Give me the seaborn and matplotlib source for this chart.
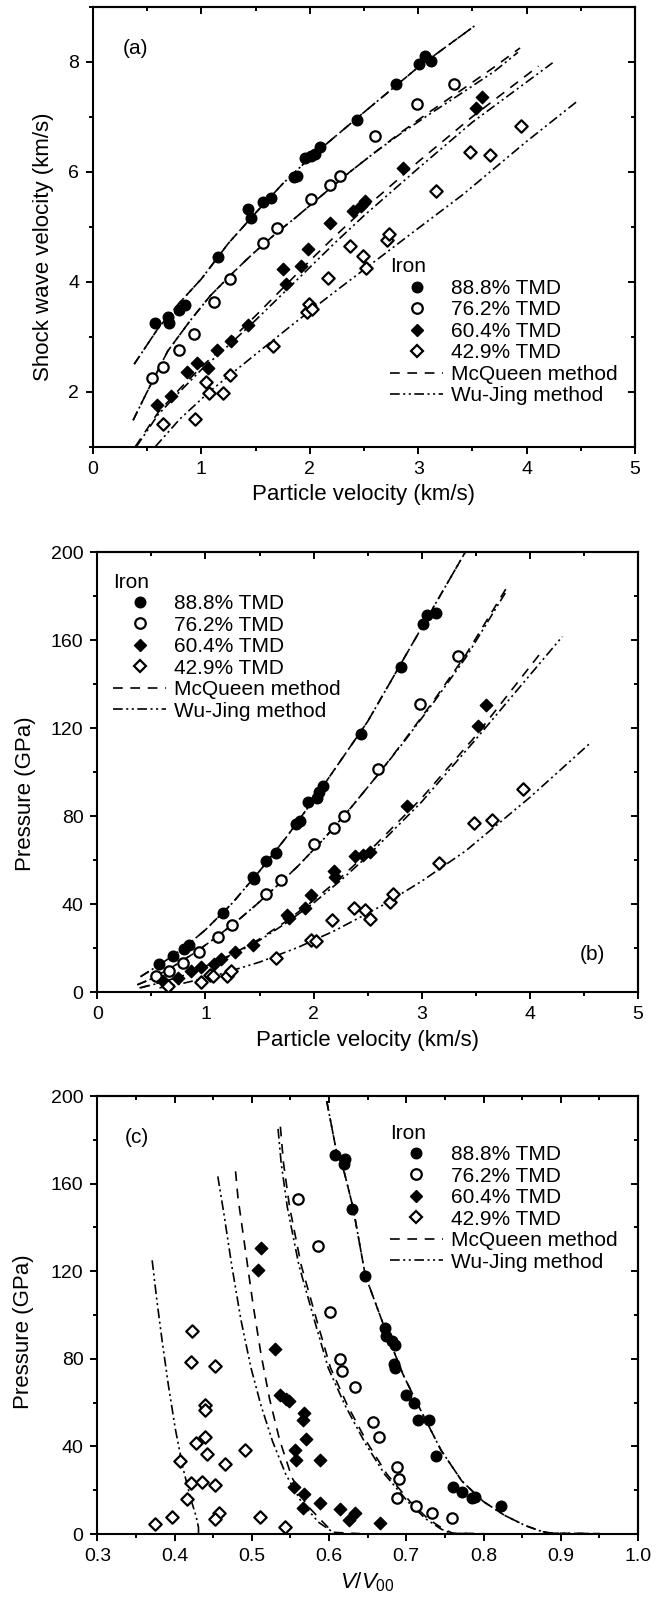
import matplotlib
matplotlib.use("Agg")
import matplotlib.pyplot as plt
import seaborn as sns
from matplotlib.lines import Line2D
from matplotlib.ticker import MultipleLocator

sns.set_theme(style="ticks", rc={"axes.edgecolor": "black", "xtick.color": "black",
                                  "ytick.color": "black", "text.color": "black",
                                  "axes.labelcolor": "black"})
plt.rcParams["font.family"] = ["Liberation Sans", "DejaVu Sans"]
plt.rcParams["mathtext.fontset"] = "custom"
plt.rcParams["mathtext.rm"] = "Liberation Sans"
plt.rcParams["mathtext.it"] = "Liberation Sans:italic"
plt.rcParams["lines.scale_dashes"] = False

# ---------------- legend / labels ----------------
series_labels = ["88.8% TMD", "76.2% TMD", "60.4% TMD", "42.9% TMD"]
method_labels = ["McQueen method", "Wu-Jing method"]
legend_title = "Iron"

# ---------------- panel (a): Us vs up (km/s) ----------------
a_up_888 = [0.57, 0.69, 0.70, 0.79, 0.85, 1.15, 1.43, 1.46, 1.57, 1.64, 1.85, 1.88, 1.96, 2.01, 2.05, 2.09, 2.44, 2.80, 3.01, 3.06, 3.12]
a_us_888 = [3.24, 3.36, 3.25, 3.49, 3.57, 4.44, 5.32, 5.15, 5.44, 5.53, 5.91, 5.93, 6.25, 6.29, 6.32, 6.44, 6.94, 7.60, 7.95, 8.11, 8.01]
a_up_762 = [0.545, 0.645, 0.79, 0.93, 1.12, 1.26, 1.57, 1.70, 2.01, 2.19, 2.28, 2.60, 2.99, 3.33]
a_us_762 = [2.25, 2.45, 2.75, 3.05, 3.63, 4.04, 4.70, 4.98, 5.51, 5.75, 5.93, 6.64, 7.23, 7.60]
a_up_604 = [0.595, 0.72, 0.87, 0.96, 1.06, 1.14, 1.27, 1.43, 1.75, 1.78, 1.92, 1.98, 2.19, 2.40, 2.47, 2.51, 2.86, 3.53, 3.59]
a_us_604 = [1.76, 1.92, 2.35, 2.52, 2.43, 2.75, 2.92, 3.21, 4.23, 3.96, 4.29, 4.59, 5.06, 5.28, 5.37, 5.47, 6.07, 7.15, 7.35]
a_up_429 = [0.65, 0.94, 1.04, 1.07, 1.20, 1.26, 1.66, 1.97, 1.99, 2.02, 2.17, 2.37, 2.49, 2.52, 2.71, 2.73, 3.16, 3.48, 3.66, 3.95]
a_us_429 = [1.42, 1.51, 2.17, 1.98, 1.98, 2.31, 2.83, 3.45, 3.60, 3.50, 4.06, 4.65, 4.46, 4.24, 4.75, 4.87, 5.64, 6.35, 6.30, 6.83]

a_mq_888_x = [0.38, 0.6, 0.8, 1.0, 1.25, 1.5, 1.75, 2.0, 2.5, 3.0, 3.52]
a_mq_888_y = [2.50, 3.15, 3.62, 4.05, 4.70, 5.25, 5.78, 6.25, 7.08, 7.90, 8.65]
a_wj_888_x = [0.38, 0.6, 0.8, 1.0, 1.25, 1.5, 1.75, 2.0, 2.5, 3.0, 3.52]
a_wj_888_y = [2.50, 3.15, 3.62, 4.05, 4.70, 5.25, 5.78, 6.25, 7.08, 7.90, 8.65]
a_mq_762_x = [0.37, 0.5, 0.69, 0.9, 1.08, 1.3, 1.47, 1.7, 1.86, 2.1, 2.36, 2.6, 2.83, 3.1, 3.41, 3.7, 3.94]
a_mq_762_y = [1.48, 2.00, 2.74, 3.30, 3.74, 4.18, 4.50, 4.90, 5.15, 5.55, 5.98, 6.35, 6.70, 7.08, 7.50, 7.90, 8.25]
a_wj_762_x = [0.37, 0.5, 0.69, 0.9, 1.08, 1.3, 1.47, 1.7, 1.86, 2.1, 2.36, 2.6, 2.83, 3.1, 3.41, 3.7, 3.92]
a_wj_762_y = [1.48, 2.00, 2.74, 3.30, 3.74, 4.18, 4.50, 4.90, 5.15, 5.55, 5.98, 6.35, 6.68, 7.04, 7.44, 7.82, 8.17]
a_mq_604_x = [0.39, 0.6, 0.8, 1.0, 1.25, 1.5, 1.75, 2.0, 2.25, 2.5, 3.0, 3.5, 4.11]
a_mq_604_y = [1.00, 1.62, 2.05, 2.45, 2.90, 3.38, 3.88, 4.38, 4.86, 5.32, 6.18, 7.00, 7.92]
a_wj_604_x = [0.40, 0.6, 0.8, 1.0, 1.25, 1.5, 1.75, 2.0, 2.25, 2.5, 3.0, 3.5, 4.24]
a_wj_604_y = [1.00, 1.58, 2.00, 2.40, 2.84, 3.30, 3.78, 4.26, 4.74, 5.20, 6.06, 6.90, 7.98]
a_wj_429_x = [0.575, 0.8, 1.08, 1.5, 1.86, 2.2, 2.64, 3.0, 3.41, 4.0, 4.48]
a_wj_429_y = [1.00, 1.50, 2.01, 2.68, 3.25, 3.77, 4.43, 4.97, 5.58, 6.55, 7.30]

# ---------------- panel (b): P (GPa) vs up ----------------
b_up_888 = [0.57, 0.70, 0.80, 0.85, 1.16, 1.44, 1.45, 1.56, 1.65, 1.84, 1.87, 1.95, 2.03, 2.05, 2.09, 2.44, 2.81, 3.01, 3.05, 3.13]
b_p_888 = [12.9, 16.5, 19.6, 21.6, 35.8, 52.1, 51.2, 59.6, 63.1, 76.5, 77.6, 86.3, 88.2, 91.0, 93.8, 117.2, 147.8, 167.4, 171.3, 172.5]
b_up_762 = [0.54, 0.66, 0.79, 0.94, 1.12, 1.25, 1.56, 1.70, 2.00, 2.19, 2.28, 2.60, 2.98, 3.34]
b_p_762 = [7.5, 9.4, 13.3, 18.0, 25.1, 30.6, 44.4, 51.0, 67.5, 74.5, 80.0, 101.6, 131.0, 152.9]
b_up_604 = [0.61, 0.75, 0.87, 0.96, 1.08, 1.14, 1.27, 1.44, 1.75, 1.77, 1.92, 1.98, 2.19, 2.20, 2.38, 2.46, 2.52, 2.86, 3.52, 3.59]
b_p_604 = [5.2, 6.3, 9.7, 11.5, 12.9, 14.9, 18.0, 21.2, 35.2, 33.5, 38.4, 43.9, 54.9, 52.1, 62.0, 62.4, 63.5, 84.7, 120.8, 130.5]
b_up_429 = [0.65, 0.955, 1.04, 1.07, 1.20, 1.24, 1.65, 1.98, 2.02, 2.17, 2.37, 2.48, 2.52, 2.71, 2.73, 3.16, 3.48, 3.65, 3.94]
b_p_429 = [2.8, 4.4, 7.6, 7.1, 7.5, 9.7, 15.7, 23.5, 23.2, 32.6, 38.4, 37.3, 33.3, 40.8, 44.7, 58.8, 76.9, 78.4, 92.5]

b_mq_888_x = [0.4, 0.6, 0.8, 1.0, 1.25, 1.5, 1.75, 2.0, 2.5, 3.0, 3.45]
b_mq_888_y = [7.0, 13.2, 20.0, 28.3, 40.5, 55.0, 70.5, 87.4, 123.0, 165.7, 204.0]
b_wj_888_x = [0.4, 0.6, 0.8, 1.0, 1.25, 1.5, 1.75, 2.0, 2.5, 3.0, 3.45]
b_wj_888_y = [7.0, 13.2, 20.0, 28.3, 40.5, 55.0, 70.5, 87.4, 123.0, 165.7, 204.0]
b_mq_762_x = [0.37, 0.5, 0.69, 0.9, 1.08, 1.3, 1.47, 1.7, 1.86, 2.1, 2.36, 2.6, 2.83, 3.1, 3.41, 3.8]
b_mq_762_y = [3.3, 6.0, 11.3, 17.8, 24.2, 32.6, 39.7, 50.0, 57.5, 69.9, 84.7, 99.1, 113.8, 131.7, 153.5, 185.0]
b_wj_762_x = [0.37, 0.5, 0.69, 0.9, 1.08, 1.3, 1.47, 1.7, 1.86, 2.1, 2.36, 2.6, 2.83, 3.1, 3.41, 3.78]
b_wj_762_y = [3.3, 6.0, 11.3, 17.8, 24.2, 32.6, 39.7, 50.0, 57.5, 69.9, 84.7, 99.1, 113.4, 131.0, 152.2, 182.0]
b_mq_604_x = [0.39, 0.6, 0.8, 1.0, 1.25, 1.5, 1.75, 2.0, 2.25, 2.5, 3.0, 3.5, 4.11]
b_mq_604_y = [1.9, 4.6, 7.8, 11.7, 17.2, 24.1, 32.3, 41.7, 52.0, 63.3, 88.2, 116.5, 154.8]
b_wj_604_x = [0.40, 0.6, 0.8, 1.0, 1.25, 1.5, 1.75, 2.0, 2.25, 2.5, 3.0, 3.5, 4.3]
b_wj_604_y = [1.9, 4.5, 7.6, 11.4, 16.9, 23.5, 31.5, 40.5, 50.7, 61.8, 86.5, 114.9, 161.6]
b_wj_429_x = [0.575, 0.8, 1.08, 1.5, 1.86, 2.2, 2.64, 3.0, 3.41, 4.0, 4.57]
b_wj_429_y = [1.9, 4.05, 7.3, 13.6, 20.4, 28.0, 39.5, 50.4, 64.3, 88.5, 113.7]

# ---------------- panel (c): P (GPa) vs V/V00 ----------------
c_v_888 = [0.608, 0.621, 0.620, 0.630, 0.647, 0.673, 0.674, 0.681, 0.685, 0.684, 0.686, 0.700, 0.710, 0.715, 0.729, 0.739, 0.760, 0.772, 0.785, 0.789, 0.823]
c_p_888 = [173.0, 171.1, 168.8, 148.4, 117.7, 94.1, 90.6, 88.0, 86.4, 77.7, 75.8, 63.3, 59.7, 52.3, 52.3, 35.6, 21.4, 19.2, 16.4, 17.0, 12.8]
c_v_762 = [0.560, 0.586, 0.601, 0.614, 0.617, 0.634, 0.657, 0.665, 0.688, 0.690, 0.688, 0.712, 0.733, 0.759]
c_p_762 = [153.1, 131.3, 101.6, 80.0, 74.5, 67.2, 51.1, 44.2, 30.5, 25.0, 16.7, 12.8, 9.4, 7.3]
c_v_604 = [0.512, 0.508, 0.530, 0.536, 0.544, 0.548, 0.568, 0.566, 0.570, 0.556, 0.557, 0.588, 0.554, 0.568, 0.566, 0.588, 0.614, 0.626, 0.633, 0.666]
c_p_604 = [130.5, 120.6, 84.7, 63.3, 61.7, 60.9, 55.2, 52.3, 43.3, 38.3, 33.6, 33.9, 21.4, 18.3, 12.0, 14.4, 11.4, 6.3, 9.4, 5.2]
c_v_429 = [0.423, 0.421, 0.452, 0.439, 0.439, 0.428, 0.440, 0.442, 0.407, 0.491, 0.465, 0.421, 0.436, 0.452, 0.416, 0.457, 0.453, 0.375, 0.397, 0.511, 0.543]
c_p_429 = [92.7, 78.4, 76.6, 58.9, 56.7, 41.7, 44.5, 36.4, 33.3, 38.3, 32.0, 23.1, 23.9, 22.3, 15.9, 9.8, 6.7, 4.7, 7.8, 7.8, 3.1]

c_mq_888_x = [0.597, 0.609, 0.620, 0.631, 0.647, 0.674, 0.696, 0.718, 0.745, 0.772, 0.800, 0.827, 0.854, 0.876, 0.890, 0.950]
c_mq_888_y = [197.7, 175.8, 164.8, 149.2, 118.0, 92.2, 72.7, 57.0, 38.3, 24.2, 14.8, 8.6, 3.9, 1.1, 0.4, 0.2]
c_wj_888_x = [0.597, 0.609, 0.620, 0.631, 0.647, 0.674, 0.696, 0.718, 0.745, 0.772, 0.800, 0.827, 0.854, 0.876, 0.890, 0.950]
c_wj_888_y = [197.7, 175.8, 164.8, 149.2, 118.0, 92.2, 72.7, 57.0, 38.3, 24.2, 14.8, 8.6, 3.9, 1.1, 0.4, 0.2]
c_mq_762_x = [0.537, 0.541, 0.549, 0.564, 0.584, 0.602, 0.624, 0.650, 0.675, 0.705, 0.728, 0.748, 0.760, 0.800]
c_mq_762_y = [186.0, 169.5, 149.2, 122.7, 97.7, 75.8, 58.6, 41.4, 27.3, 14.8, 7.0, 2.3, 0.4, 0.2]
c_wj_762_x = [0.534, 0.538, 0.546, 0.561, 0.581, 0.599, 0.621, 0.647, 0.672, 0.702, 0.725, 0.745, 0.757, 0.780]
c_wj_762_y = [185.0, 169.5, 149.2, 122.7, 97.7, 75.8, 58.6, 41.4, 27.3, 14.8, 7.0, 2.3, 0.4, 0.2]
c_mq_604_x = [0.479, 0.482, 0.492, 0.502, 0.512, 0.523, 0.536, 0.552, 0.571, 0.592, 0.605, 0.640]
c_mq_604_y = [165.6, 153.9, 128.9, 103.9, 82.0, 61.7, 43.0, 25.8, 13.3, 5.5, 0.8, 0.2]
c_wj_604_x = [0.456, 0.464, 0.474, 0.486, 0.499, 0.512, 0.527, 0.544, 0.564, 0.586, 0.602, 0.609]
c_wj_604_y = [163.3, 146.0, 122.7, 97.7, 75.8, 58.6, 42.2, 27.3, 14.8, 5.5, 1.6, 0.0]
c_wj_429_x = [0.371, 0.377, 0.384, 0.392, 0.401, 0.411, 0.421, 0.428, 0.431, 0.431]
c_wj_429_y = [125.0, 107.0, 88.0, 68.0, 48.0, 30.0, 16.0, 8.0, 3.0, 0.0]

# ---------------- styles ----------------
MQ = (0, (7, 5.5))
WJ = (0, (7, 2.5, 1.5, 2.5, 1.5, 2.5))
LW = 1.2
marker_of = ["o", "o", "D", "D"]
filled_of = [True, False, True, False]
size_of = [58, 56, 40, 40]

def pts(ax, x, y, i):
    f = filled_of[i]
    sns.scatterplot(x=x, y=y, ax=ax, marker=marker_of[i], s=size_of[i],
                    facecolor="black" if f else "white", edgecolor="black",
                    linewidth=1.0 if f else 1.6, legend=False, zorder=3)

def crv(ax, x, y, ls):
    sns.lineplot(x=x, y=y, ax=ax, color="black", linewidth=LW, linestyle=ls,
                 sort=False, estimator=None, legend=False, zorder=2)

def style(ax, xlim, ylim, xmaj, xmin, ymaj, ymin):
    ax.set_xlim(xlim)
    ax.set_ylim(ylim)
    ax.xaxis.set_major_locator(MultipleLocator(xmaj))
    ax.xaxis.set_minor_locator(MultipleLocator(xmin))
    ax.yaxis.set_major_locator(MultipleLocator(ymaj))
    ax.yaxis.set_minor_locator(MultipleLocator(ymin))
    ax.tick_params(which="both", direction="out", top=False, right=False,
                   labelsize=14, width=1.4, pad=5)
    ax.tick_params(which="major", length=5)
    ax.tick_params(which="minor", length=3.1)
    for s in ax.spines.values():
        s.set_linewidth(1.5)
        s.set_visible(True)
    sx = ax.secondary_xaxis("top")
    sx.xaxis.set_major_locator(MultipleLocator(xmaj))
    sx.xaxis.set_minor_locator(MultipleLocator(xmin))
    sx.tick_params(which="both", direction="in", labeltop=False, width=1.4)
    sx.tick_params(which="major", length=5)
    sx.tick_params(which="minor", length=3.1)
    sx.spines["top"].set_linewidth(1.5)
    sy = ax.secondary_yaxis("right")
    sy.yaxis.set_major_locator(MultipleLocator(ymaj))
    sy.yaxis.set_minor_locator(MultipleLocator(ymin))
    sy.tick_params(which="both", direction="in", labelright=False, width=1.4)
    sy.tick_params(which="major", length=5)
    sy.tick_params(which="minor", length=3.1)
    sy.spines["right"].set_linewidth(1.5)

def legend(ax, x, y):
    hs = []
    for i in range(4):
        f = filled_of[i]
        ms = 7.6 if marker_of[i] == "o" else 6.3
        hs.append(Line2D([], [], ls="none", marker=marker_of[i], ms=ms,
                         mfc="black" if f else "white", mec="black",
                         mew=1.0 if f else 1.6))
    hs.append(Line2D([], [], color="black", lw=LW, ls=MQ))
    hs.append(Line2D([], [], color="black", lw=LW, ls=WJ))
    ax.legend(hs, series_labels + method_labels, title=legend_title,
              loc="upper left", bbox_to_anchor=(x, y), frameon=False,
              fontsize=15, title_fontsize=15, alignment="left",
              handlelength=2.55, handletextpad=0.38, labelspacing=0.12,
              borderpad=0, borderaxespad=0)

fig = plt.figure(figsize=(6.58, 15.97), dpi=100)
axA = fig.add_axes([0.1413, 0.7203, 0.8237, 0.2755])
axB = fig.add_axes([0.1479, 0.3788, 0.8217, 0.2755])
axC = fig.add_axes([0.1479, 0.0394, 0.8217, 0.2743])

# panel (a)
crv(axA, a_mq_888_x, a_mq_888_y, MQ); crv(axA, a_wj_888_x, a_wj_888_y, WJ)
crv(axA, a_mq_762_x, a_mq_762_y, MQ); crv(axA, a_wj_762_x, a_wj_762_y, WJ)
crv(axA, a_mq_604_x, a_mq_604_y, MQ); crv(axA, a_wj_604_x, a_wj_604_y, WJ)
crv(axA, a_wj_429_x, a_wj_429_y, WJ)
for i, (x, y) in enumerate([(a_up_888, a_us_888), (a_up_762, a_us_762),
                            (a_up_604, a_us_604), (a_up_429, a_us_429)]):
    pts(axA, x, y, i)
style(axA, (0, 5), (1, 9), 1, 0.5, 2, 1)
axA.set_xlabel("Particle velocity (km/s)", fontsize=16)
axA.set_ylabel("Shock wave velocity (km/s)", fontsize=16)
axA.xaxis.set_label_coords(0.5, -0.084)
axA.yaxis.set_label_coords(-0.071, 0.455)
axA.text(0.079, 0.906, "(a)", transform=axA.transAxes, ha="center", va="center", fontsize=15)
legend(axA, 0.548, 0.430)

# panel (b)
crv(axB, b_mq_888_x, b_mq_888_y, MQ); crv(axB, b_wj_888_x, b_wj_888_y, WJ)
crv(axB, b_mq_762_x, b_mq_762_y, MQ); crv(axB, b_wj_762_x, b_wj_762_y, WJ)
crv(axB, b_mq_604_x, b_mq_604_y, MQ); crv(axB, b_wj_604_x, b_wj_604_y, WJ)
crv(axB, b_wj_429_x, b_wj_429_y, WJ)
for i, (x, y) in enumerate([(b_up_888, b_p_888), (b_up_762, b_p_762),
                            (b_up_604, b_p_604), (b_up_429, b_p_429)]):
    pts(axB, x, y, i)
style(axB, (0, 5), (0, 200), 1, 0.5, 40, 20)
axB.set_xlabel("Particle velocity (km/s)", fontsize=16)
axB.set_ylabel("Pressure (GPa)", fontsize=16)
axB.xaxis.set_label_coords(0.5, -0.086)
axB.yaxis.set_label_coords(-0.114, 0.45)
axB.text(0.915, 0.086, "(b)", transform=axB.transAxes, ha="center", va="center", fontsize=15)
legend(axB, 0.029, 0.953)

# panel (c)
crv(axC, c_mq_888_x, c_mq_888_y, MQ); crv(axC, c_wj_888_x, c_wj_888_y, WJ)
crv(axC, c_mq_762_x, c_mq_762_y, MQ); crv(axC, c_wj_762_x, c_wj_762_y, WJ)
crv(axC, c_mq_604_x, c_mq_604_y, MQ); crv(axC, c_wj_604_x, c_wj_604_y, WJ)
crv(axC, c_wj_429_x, c_wj_429_y, WJ)
for i, (x, y) in enumerate([(c_v_888, c_p_888), (c_v_762, c_p_762),
                            (c_v_604, c_p_604), (c_v_429, c_p_429)]):
    pts(axC, x, y, i)
style(axC, (0.3, 1.0), (0, 200), 0.1, 0.05, 40, 20)
axC.set_xlabel(r"$V/V_{00}$", fontsize=16)
axC.set_ylabel("Pressure (GPa)", fontsize=16)
axC.xaxis.set_label_coords(0.5, -0.082)
axC.yaxis.set_label_coords(-0.118, 0.463)
axC.text(0.073, 0.906, "(c)", transform=axC.transAxes, ha="center", va="center", fontsize=15)
legend(axC, 0.541, 0.937)

fig.savefig("out.png", dpi=100)
